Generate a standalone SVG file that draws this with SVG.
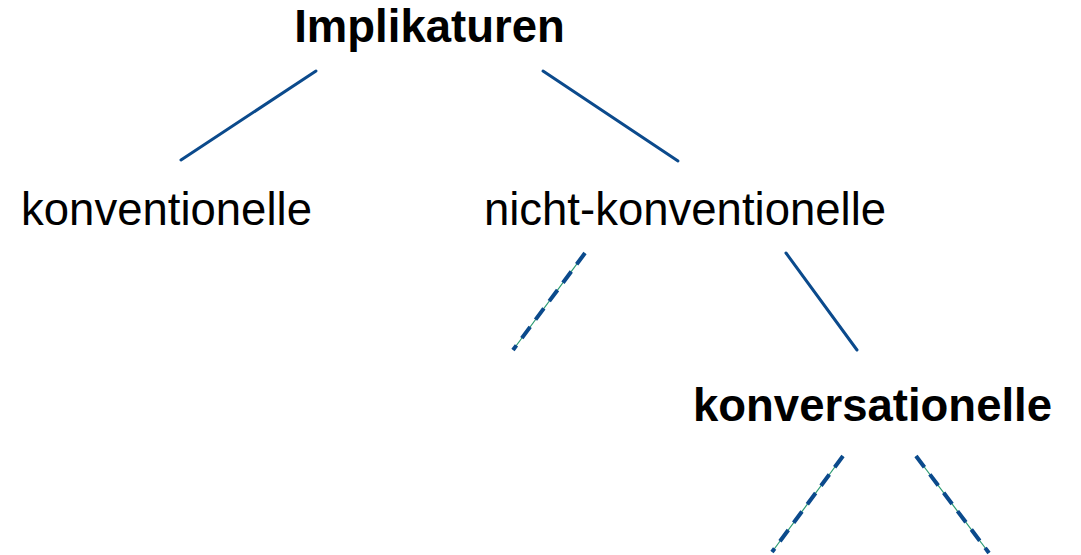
<svg xmlns="http://www.w3.org/2000/svg" width="1081" height="555" viewBox="0 0 1081 555">
<style>
.t{font-family:"Liberation Sans",Arial,sans-serif;font-size:45.5px;fill:#000;text-anchor:middle}
.b{font-weight:bold}
.s{stroke:#0b4a8c;stroke-width:3;fill:none;stroke-linecap:round}
.g{stroke:#2a9a70;stroke-width:1.2;fill:none}
.d{stroke:#0b4a8c;stroke-width:4;fill:none;stroke-dasharray:14 9}
</style>
<rect width="1081" height="555" fill="#fff"/>
<g id="connectors">
<line class="s" x1="316" y1="71" x2="181" y2="160"/>
<line class="s" x1="543" y1="71" x2="678" y2="161"/>
<line class="s" x1="786" y1="253" x2="857" y2="350"/>
<line class="g" x1="585" y1="253" x2="513" y2="350"/>
<line class="d" x1="585" y1="253" x2="513" y2="350"/>
<line class="g" x1="843" y1="456" x2="772" y2="552"/>
<line class="d" x1="843" y1="456" x2="772" y2="552"/>
<line class="g" x1="916" y1="456" x2="989" y2="553"/>
<line class="d" x1="916" y1="456" x2="989" y2="553"/>
</g>
<g id="implikaturen"><text class="t b" x="429.5" y="42">Implikaturen</text></g>
<g id="konventionelle"><text class="t" x="166.5" y="225">konventionelle</text></g>
<g id="nicht-konventionelle"><text class="t" x="685" y="225">nicht-konventionelle</text></g>
<g id="konversationelle"><text class="t b" x="872.5" y="421">konversationelle</text></g>
</svg>
